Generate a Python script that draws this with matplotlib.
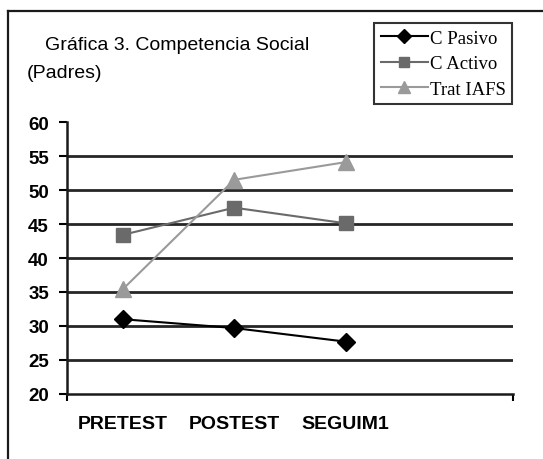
import matplotlib.pyplot as plt
from matplotlib.lines import Line2D

# data
categories = ['PRETEST', 'POSTEST', 'SEGUIM1']
c_pasivo = [31.0, 29.7, 27.7]
c_activo = [43.4, 47.4, 45.1]
trat_iafs = [35.4, 51.5, 54.1]
y_ticks = [20, 25, 30, 35, 40, 45, 50, 55, 60]

W, H = 543, 460
fig = plt.figure(figsize=(W / 100, H / 100), dpi=100)
fig.patch.set_facecolor('white')

# outer frame (only top and left edges are visible in the crop)
fig.add_artist(Line2D([8 / W, 1], [1 - 12 / H, 1 - 12 / H], color='#1a1a1a', lw=1.6))
fig.add_artist(Line2D([8 / W, 8 / W], [0, 1 - 12 / H], color='#1a1a1a', lw=1.6))

ax = fig.add_axes([67 / W, 65 / H, (513 - 67) / W, (395 - 123) / H])

x = list(range(len(categories)))
ax.plot(x, c_pasivo, color='black', lw=1.5, marker='D', markersize=9, label='C Pasivo')
ax.plot(x, c_activo, color='#6a6a6a', lw=1.5, marker='s', markersize=10.5, label='C Activo')
ax.plot(x, trat_iafs, color='#9a9a9a', lw=1.5, marker='^', markersize=11.5, label='Trat IAFS')

for v in y_ticks[1:-1]:
    ax.axhline(v, color='#262626', lw=2, zorder=0)

ax.set_xlim(-0.5, 3.5)
ax.set_ylim(20, 60)
ax.set_yticks(y_ticks)
ax.set_yticklabels([str(v) for v in y_ticks], fontsize=13.5, fontweight='bold', family='Liberation Sans')
ax.tick_params(axis='y', length=6, width=1.5, pad=7, direction='out')

ax.set_xticks(x)
ax.set_xticklabels(categories, fontsize=14, fontweight='bold', family='Liberation Sans')
ax.set_xticks([-0.5, 3.5], minor=True)
ax.tick_params(axis='x', which='major', length=0, pad=15)
ax.tick_params(axis='x', which='minor', length=5, width=1.5, direction='out')

for s in ['top', 'right']:
    ax.spines[s].set_visible(False)
for s in ['left', 'bottom']:
    ax.spines[s].set_linewidth(1.8)
    ax.spines[s].set_color('#1a1a1a')

fig.text(45 / W, 1 - 45 / H, 'Gráfica 3. Competencia Social', fontsize=14,
         family='Liberation Sans', va='center', ha='left')
fig.text(27 / W, 1 - 73 / H, '(Padres)', fontsize=14,
         family='Liberation Sans', va='center', ha='left')

leg = fig.legend(loc='upper right', bbox_to_anchor=(512 / W, 1 - 24 / H),
                 prop={'family': 'Liberation Serif', 'size': 13.5},
                 fancybox=False, frameon=True, edgecolor='black',
                 handlelength=2.5, handletextpad=0.1, borderpad=0.35,
                 labelspacing=0.45, borderaxespad=0, markerscale=0.75)
leg.get_frame().set_linewidth(1.5)

fig.savefig('out.png', dpi=100)
